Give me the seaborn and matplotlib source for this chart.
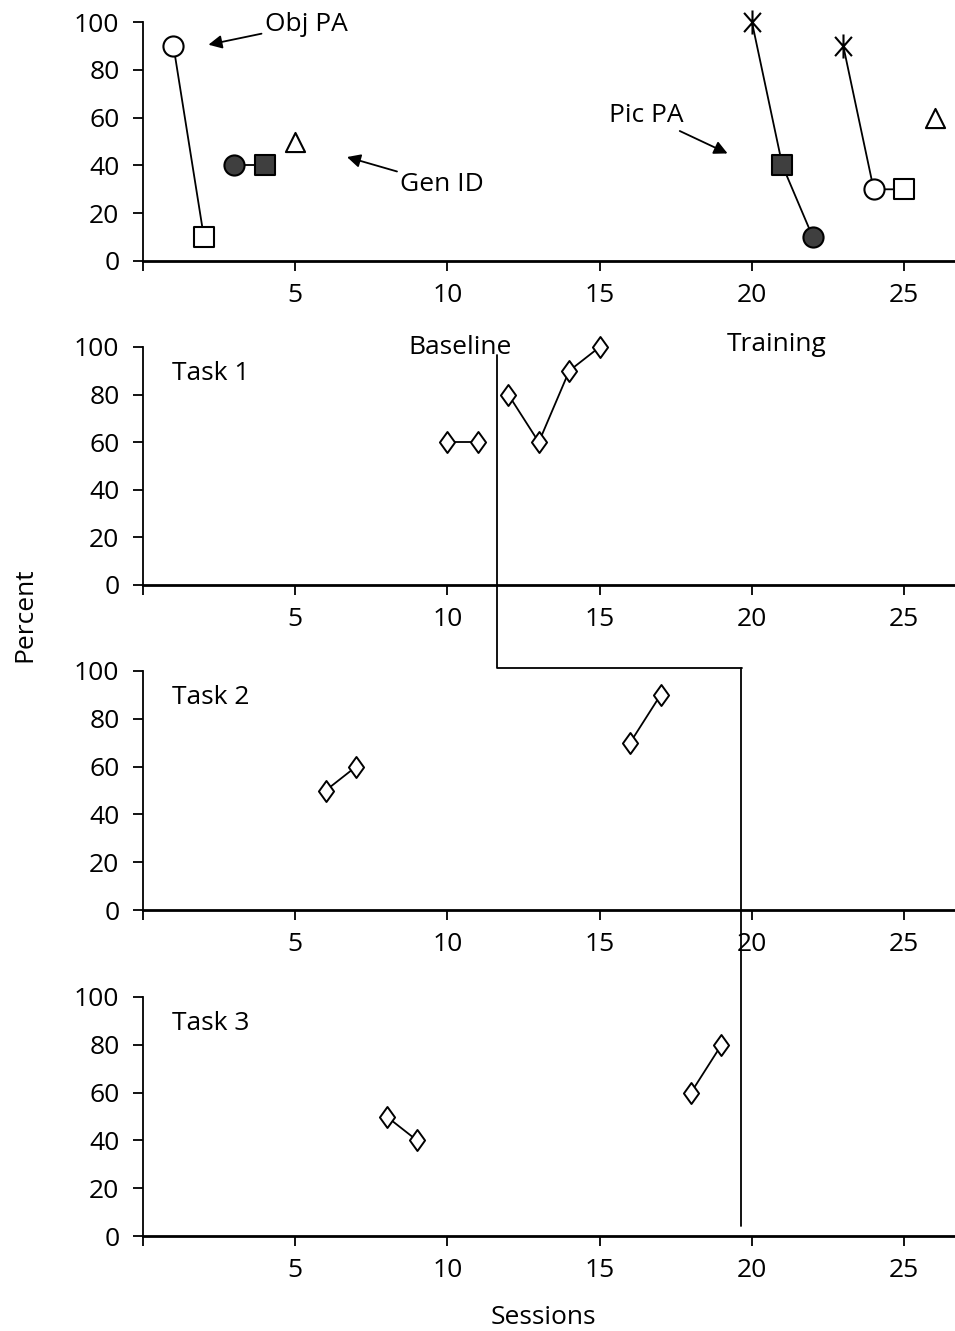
import matplotlib
matplotlib.use("Agg")
import matplotlib.pyplot as plt
import seaborn as sns
import pandas as pd
from matplotlib.path import Path
from matplotlib.lines import Line2D

# top panel: probe sessions (session, percent, connected group, marker kind)
probe_session = [1, 2, 3, 4, 5, 20, 21, 22, 23, 24, 25, 26]
probe_pct = [90, 10, 40, 40, 50, 100, 40, 10, 90, 30, 30, 60]
probe_group = ["a", "a", "b", "b", "c", "d", "d", "d", "e", "e", "e", "f"]
probe_kind = ["open_circle", "open_square", "fill_circle", "fill_square", "triangle",
              "star", "fill_square", "fill_circle", "star", "open_circle", "open_square", "triangle"]

# task panels
task_names = ["Task 1", "Task 2", "Task 3"]
task_session = [[10, 11, 12, 13, 14, 15], [6, 7, 16, 17], [8, 9, 18, 19]]
task_pct = [[60, 60, 80, 60, 90, 100], [50, 60, 70, 90], [50, 40, 60, 80]]
task_group = [["a", "a", "b", "b", "b", "b"], ["a", "a", "b", "b"], ["a", "a", "b", "b"]]

phase1 = 11.63
phase2 = 19.64

sns.set_style("ticks")
plt.rcParams["font.family"] = ["Open Sans", "DejaVu Sans"]
for key in ["text.color", "xtick.color", "ytick.color", "axes.labelcolor", "axes.edgecolor"]:
    plt.rcParams[key] = "black"
fs = 19

diamond = Path([(0, 1), (0.72, 0), (0, -1), (-0.72, 0), (0, 1)],
               [Path.MOVETO, Path.LINETO, Path.LINETO, Path.LINETO, Path.CLOSEPOLY])
star = Path([(0, -1), (0, 1), (-0.7, -0.8), (0.7, 0.8), (-0.7, 0.8), (0.7, -0.8)],
            [Path.MOVETO, Path.LINETO, Path.MOVETO, Path.LINETO, Path.MOVETO, Path.LINETO])

dark = "#3f3f3f"
kinds = {
    "open_circle": dict(marker="o", fc="white", s=210),
    "open_square": dict(marker="s", fc="white", s=220),
    "fill_circle": dict(marker="o", fc=dark, s=210),
    "fill_square": dict(marker="s", fc=dark, s=220),
    "triangle": dict(marker="^", fc="white", s=190),
    "star": dict(marker=star, fc="black", s=300),
}

W, H = 955, 1331
fig = plt.figure(figsize=(W / 100, H / 100), dpi=100)

panel_px = [(22, 261), (347, 585), (671, 910), (997, 1236)]
axes = []
for top, bot in panel_px:
    ax = fig.add_axes([143 / W, 1 - bot / H, 1 - 143 / W, (bot - top) / H])
    axes.append(ax)

for ax in axes:
    ax.set_xlim(0, 26.67)
    ax.set_ylim(0, 100)
    ax.set_xticks([0, 5, 10, 15, 20, 25])
    ax.set_xticklabels(["", "5", "10", "15", "20", "25"])
    ax.set_yticks([0, 20, 40, 60, 80, 100])
    ax.tick_params(direction="out", length=7, width=1.3, labelsize=fs, colors="black")
    ax.tick_params(axis="y", pad=10)
    ax.tick_params(axis="x", pad=9)
    sns.despine(ax=ax)
    ax.spines["left"].set_linewidth(1.3)
    ax.spines["bottom"].set_linewidth(2)

# top panel
probe = pd.DataFrame({"session": probe_session, "pct": probe_pct,
                      "group": probe_group, "kind": probe_kind})
ax = axes[0]
sns.lineplot(data=probe, x="session", y="pct", units="group", estimator=None,
             color="black", lw=1.3, ax=ax, clip_on=False)
for k, sub in probe.groupby("kind"):
    st = kinds[k]
    sns.scatterplot(data=sub, x="session", y="pct", marker=st["marker"], s=st["s"],
                    color=st["fc"], edgecolor="black", linewidth=1.5, ax=ax,
                    clip_on=False, zorder=3)
ax.set_xlabel("")
ax.set_ylabel("")

arrow = dict(arrowstyle="-|>", color="black", lw=1.3, mutation_scale=20, shrinkA=0, shrinkB=0)
ax.annotate("Obj PA", xy=(2.15, 90.5), xytext=(4.0, 99), ha="left", va="center",
            fontsize=fs, arrowprops=arrow, annotation_clip=False)
ax.annotate("Gen ID", xy=(6.7, 43.5), xytext=(8.45, 32), ha="left", va="center",
            fontsize=fs, arrowprops=arrow)
ax.annotate("Pic PA", xy=(19.2, 45), xytext=(17.75, 61), ha="right", va="center",
            fontsize=fs, arrowprops=arrow)

# task panels
for i in range(3):
    ax = axes[i + 1]
    df = pd.DataFrame({"session": task_session[i], "pct": task_pct[i], "group": task_group[i]})
    sns.lineplot(data=df, x="session", y="pct", units="group", estimator=None,
                 color="black", lw=1.3, ax=ax)
    sns.scatterplot(data=df, x="session", y="pct", marker=diamond, s=230, color="white",
                    edgecolor="black", linewidth=1.4, ax=ax, clip_on=False, zorder=3)
    ax.set_xlabel("")
    ax.set_ylabel("")
    ax.text(0.95, 89, task_names[i], ha="left", va="center", fontsize=fs)

axes[1].text(10.4, 100, "Baseline", ha="center", va="center", fontsize=fs)
axes[1].text(20.8, 101, "Training", ha="center", va="center", fontsize=fs)

# phase change lines (drawn in figure coords, converted from the panels' data coords)
def to_fig(ax, x, y):
    return fig.transFigure.inverted().transform(ax.transData.transform((x, y)))

pts = [to_fig(axes[1], phase1, 96.6), to_fig(axes[2], phase1, 101.3),
       to_fig(axes[2], phase2 + 0.05, 101.3)]
p_top = to_fig(axes[2], phase2, 101.3)
p_bot = to_fig(axes[3], phase2, 4)
fig.add_artist(Line2D([p[0] for p in pts], [p[1] for p in pts],
                      transform=fig.transFigure, color="black", lw=1.3, zorder=5))
fig.add_artist(Line2D([p_top[0], p_bot[0]], [p_top[1], p_bot[1]],
                      transform=fig.transFigure, color="black", lw=1.3, zorder=5))

fig.text(25 / W, 1 - 615 / H, "Percent", rotation=90, ha="center", va="center", fontsize=fs)
fig.text(543 / W, 1 - 1318 / H, "Sessions", ha="center", va="center", fontsize=fs)

fig.savefig("out.png", dpi=100)
